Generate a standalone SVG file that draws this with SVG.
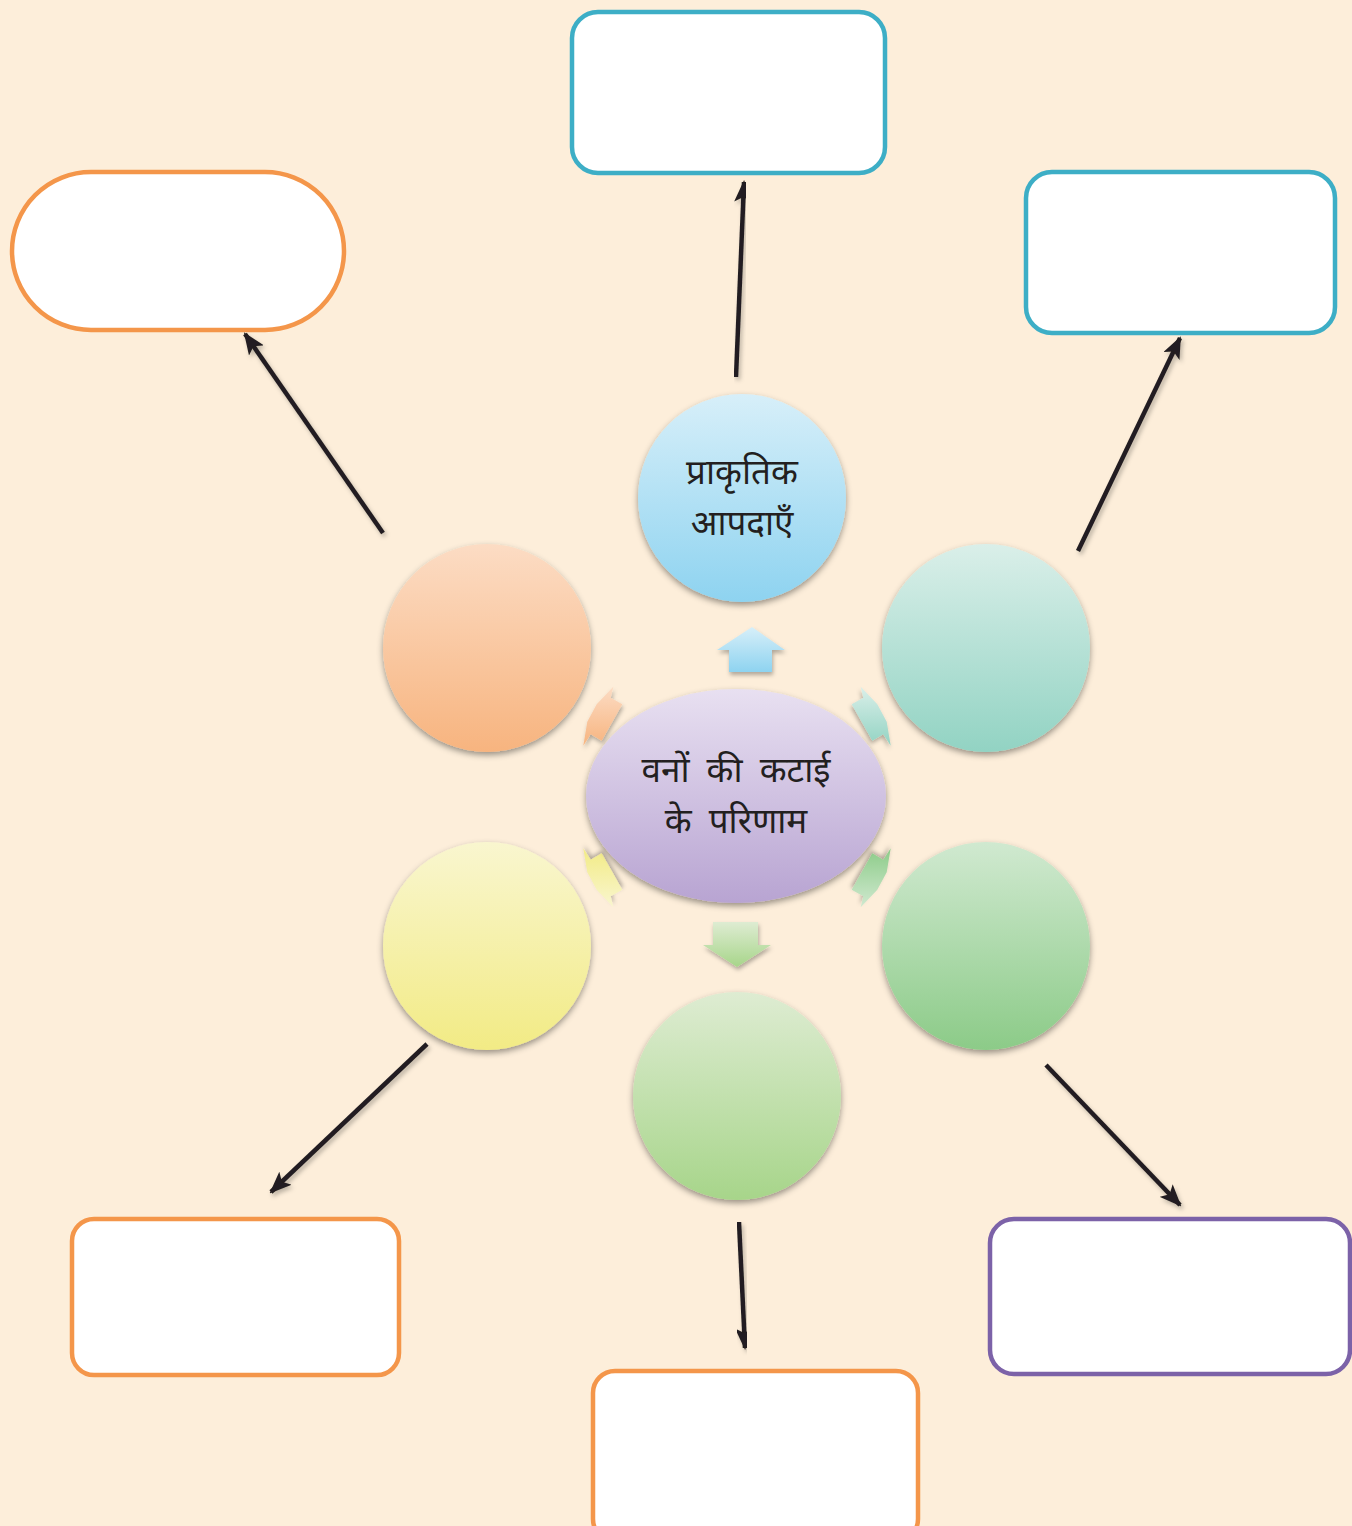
<svg xmlns="http://www.w3.org/2000/svg" width="1352" height="1526" viewBox="0 0 1352 1526">
<style>
.box{fill:#ffffff;stroke-width:4.5}
.or{stroke:#F4964A}
.tl{stroke:#3DAEC6}
.pu{stroke:#7C62A8}
.con{stroke:#231F20;stroke-width:4.5;fill:none;marker-end:url(#ah);filter:url(#ls)}
.lbl{font-family:"Noto Sans","Noto Sans Devanagari","Lohit Devanagari","FreeSans",sans-serif;font-size:35px;fill:#231F20;text-anchor:middle}
.bub{filter:url(#sh)}
.sa{filter:url(#ss)}
</style>
<defs>
<marker id="ah" viewBox="0 0 22 18" refX="20" refY="9" markerWidth="22" markerHeight="18" markerUnits="userSpaceOnUse" orient="auto">
<path d="M0,0 L22,9 L0,18 L5,9 Z" fill="#231F20"/>
</marker>
<filter id="sh" x="-20%" y="-20%" width="140%" height="150%">
<feDropShadow dx="0" dy="3" stdDeviation="3" flood-color="#000" flood-opacity="0.4"/>
</filter>
<filter id="ss" x="-30%" y="-30%" width="160%" height="160%">
<feDropShadow dx="1" dy="3" stdDeviation="2" flood-color="#000" flood-opacity="0.3"/>
</filter>
<filter id="ls" x="-20%" y="-20%" width="140%" height="140%">
<feDropShadow dx="2" dy="3" stdDeviation="2" flood-color="#000" flood-opacity="0.25"/>
</filter>
<linearGradient id="gBlue" x1="0" y1="0" x2="0" y2="1"><stop offset="0" stop-color="#D7EFF9"/><stop offset="1" stop-color="#8ED3F0"/></linearGradient>
<linearGradient id="gOr" x1="0" y1="0" x2="0" y2="1"><stop offset="0" stop-color="#FCDCC4"/><stop offset="1" stop-color="#F7B47F"/></linearGradient>
<linearGradient id="gTeal" x1="0" y1="0" x2="0" y2="1"><stop offset="0" stop-color="#DAEFE9"/><stop offset="1" stop-color="#92D3C3"/></linearGradient>
<linearGradient id="gYel" x1="0" y1="0" x2="0" y2="1"><stop offset="0" stop-color="#F9F6CF"/><stop offset="1" stop-color="#F2EB85"/></linearGradient>
<linearGradient id="gGrn" x1="0" y1="0" x2="0" y2="1"><stop offset="0" stop-color="#D0E9D0"/><stop offset="1" stop-color="#8CCB88"/></linearGradient>
<linearGradient id="gLg" x1="0" y1="0" x2="0" y2="1"><stop offset="0" stop-color="#DEECD2"/><stop offset="1" stop-color="#A7D58A"/></linearGradient>
<linearGradient id="gPur" x1="0" y1="0" x2="0" y2="1"><stop offset="0" stop-color="#E8E0F1"/><stop offset="1" stop-color="#B8A4D2"/></linearGradient>
<polygon id="dArr" points="613.3,686.7 610.7,697.7 622.3,704.3 601.7,740.7 590.7,734.3 583.3,745.7 587.3,721.7 596.7,704.3"/>
</defs>
<rect x="0" y="0" width="1352" height="1526" fill="#FDEEDA"/>

<g id="box-top"><rect class="box tl" x="572" y="12" width="313" height="161" rx="26"/></g>
<g id="box-topleft"><rect class="box or" x="12" y="172" width="332" height="158" rx="79"/></g>
<g id="box-topright"><rect class="box tl" x="1026" y="172" width="309" height="161" rx="26"/></g>
<g id="box-bottomleft"><rect class="box or" x="72" y="1219" width="327" height="156" rx="22"/></g>
<g id="box-bottom"><rect class="box or" x="593" y="1371" width="325" height="170" rx="22"/></g>
<g id="box-bottomright"><rect class="box pu" x="990" y="1219" width="360" height="155" rx="24"/></g>

<g id="connectors">
<line class="con" x1="736" y1="377" x2="744" y2="182"/>
<line class="con" x1="383" y1="533" x2="245" y2="334"/>
<line class="con" x1="1078" y1="551" x2="1180" y2="338"/>
<line class="con" x1="427" y1="1044" x2="271" y2="1192"/>
<line class="con" x1="1046" y1="1065" x2="1180" y2="1205"/>
<line class="con" x1="739" y1="1222" x2="745" y2="1348"/>
<polygon class="sa" fill="url(#gBlue)" points="752,627 785,650 772,650 772,672 729,672 729,650 717,650"/>
<polygon class="sa" fill="url(#gLg)" points="713,922 758,922 758,945 771,945 737,967 703,945 713,945"/>
<use href="#dArr" class="sa" fill="url(#gOr)"/>
<use href="#dArr" class="sa" fill="url(#gTeal)" transform="translate(1474,0) scale(-1,1)"/>
<use href="#dArr" class="sa" fill="url(#gYel)" transform="translate(0,1594) scale(1,-1)"/>
<use href="#dArr" class="sa" fill="url(#gGrn)" transform="translate(1474,1594) scale(-1,-1)"/>
</g>

<g id="node-center"><ellipse class="bub" cx="736" cy="796" rx="150" ry="107" fill="url(#gPur)"/>
<text class="lbl" x="736" y="782" word-spacing="8">वनों की कटाई</text>
<text class="lbl" x="736" y="833" word-spacing="8">के परिणाम</text></g>
<g id="node-blue"><circle class="bub" cx="742" cy="498" r="104" fill="url(#gBlue)"/>
<text class="lbl" x="742" y="484">प्राकृतिक</text>
<text class="lbl" x="742" y="535">आपदाएँ</text></g>
<g id="node-orange"><circle class="bub" cx="487" cy="648" r="104" fill="url(#gOr)"/></g>
<g id="node-teal"><circle class="bub" cx="986" cy="648" r="104" fill="url(#gTeal)"/></g>
<g id="node-yellow"><circle class="bub" cx="487" cy="946" r="104" fill="url(#gYel)"/></g>
<g id="node-green"><circle class="bub" cx="986" cy="946" r="104" fill="url(#gGrn)"/></g>
<g id="node-lightgreen"><circle class="bub" cx="737" cy="1096" r="104" fill="url(#gLg)"/></g>
</svg>
